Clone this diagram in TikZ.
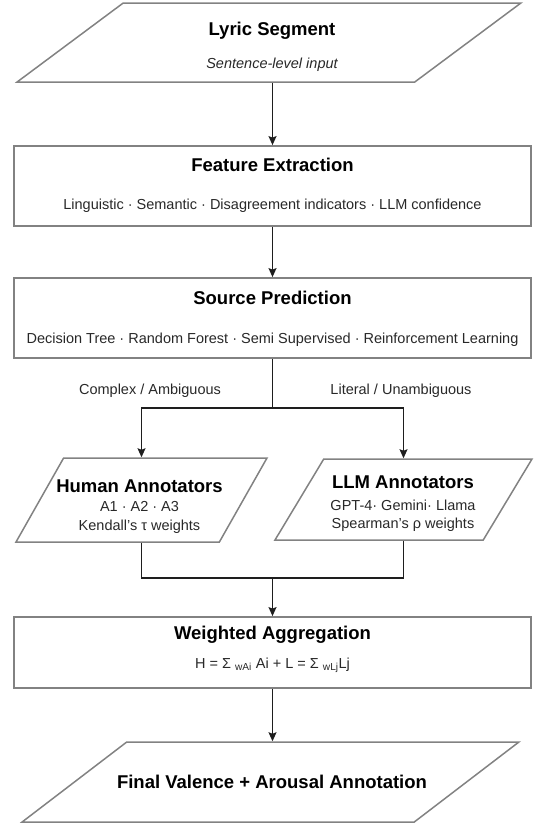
\documentclass[tikz,border=0pt]{standalone}
\usepackage{fontspec}
\setmainfont{Liberation Sans}
\usetikzlibrary{positioning}
\usetikzlibrary{shapes.geometric}
\usetikzlibrary{arrows.meta}

\definecolor{boxgray}{RGB}{130,130,130}
\definecolor{arrgray}{RGB}{30,30,30}
\definecolor{txtgray}{RGB}{40,40,40}

\tikzset{
	box/.style={draw=boxgray, line width=1.8pt, minimum width=517pt, inner sep=0pt},
	para/.style={trapezium, trapezium left angle=70, trapezium right angle=110, trapezium stretches=true, draw=boxgray, line width=1.5pt, inner sep=2pt},
	titletext/.style={font=\fontsize{18.5}{22}\selectfont\bfseries, text=black, inner sep=0pt},
	subtext/.style={font=\fontsize{14.5}{17}\selectfont, text=txtgray, inner sep=0pt},
	arr/.style={draw=arrgray, line width=1.3pt, -{Stealth[length=9pt,width=8pt,inset=1.5pt]}},
	lnk/.style={draw=arrgray, line width=1.3pt}
}

\begin{document}
\begin{tikzpicture}[x=1pt,y=-1pt]
			\useasboundingbox (0,0) rectangle (536,825);

			% Input
			\node[para, minimum width=504pt, minimum height=79pt] (lyric) at (269,42.5) {};
			\node[titletext] (lyricttl) at (272,31) {Lyric Segment};
			\node[subtext, font=\fontsize{14.5}{17}\selectfont\itshape] (lyricsub) at (272,65) {Sentence-level input};

			% Features and source prediction
			\node[box, minimum height=80pt] (feat) at (272.5,186) {};
			\node[titletext] (featttl) at (272.5,165) {Feature Extraction};
			\node[subtext] (featsub) at (272.5,206) {Linguistic · Semantic · Disagreement indicators · LLM confidence};

			\node[box, minimum height=80pt] (srcp) at (272.5,318) {};
			\node[titletext] (srcpttl) at (272.5,298) {Source Prediction};
			\node[subtext] (srcpsub) at (272.5,340) {Decision Tree · Random Forest · Semi Supervised · Reinforcement Learning};

			\node[subtext] (cplx) at (150,391) {Complex / Ambiguous};
			\node[subtext] (litr) at (401,391) {Literal / Unambiguous};

			% The two annotator groups
			\node[para, trapezium left angle=73, trapezium right angle=107, minimum width=251pt, minimum height=84pt] (human) at (141.5,500) {};
			\node[titletext] (humanttl) at (139.5,486) {Human Annotators};
			\node[subtext] (humansub) at (139.5,507) {A1 · A2 · A3};
			\node[subtext] (humanwt) at (139.5,527) {Kendall's τ weights};

			\node[para, trapezium left angle=73, trapezium right angle=107, minimum width=257pt, minimum height=81pt] (llm) at (403.5,499.5) {};
			\node[titletext] (llmttl) at (403,482) {LLM Annotators};
			\node[subtext] (llmsub) at (403,505) {GPT-4· Gemini· Llama};
			\node[subtext] (llmwt) at (403,525) {Spearman's ρ weights};

			% Aggregation and output
			\node[box, minimum height=71pt] (wagg) at (272.5,652.5) {};
			\node[titletext] (waggttl) at (272.5,635) {Weighted Aggregation};
			\node[subtext] (waggsub) at (272.5,665) {H = Σ \textsubscript{wAi} Ai + L = Σ \textsubscript{wLj}Lj};

			\node[para, minimum width=497pt, minimum height=80pt] (final) at (270.5,782) {};
			\node[titletext] (finalttl) at (272,782) {Final Valence + Arousal Annotation};

			% Connectors
			\coordinate (split) at (272.5,408);
			\coordinate (join) at (272.5,578);

			\draw[arr] (feat.north |- lyric.south) -- (feat.north);
			\draw[arr] (feat) -- (srcp);
			\draw[lnk] (srcp) -- (split);
			\draw[arr] (split) -| (human);
			\draw[arr] (split) -| (llm);
			\draw[lnk] (human) |- (join);
			\draw[lnk] (llm) |- (join);
			\draw[arr] (join) -- (wagg);
			\draw[arr] (wagg) -- (wagg.south |- final.north);
		\end{tikzpicture}
\end{document}
